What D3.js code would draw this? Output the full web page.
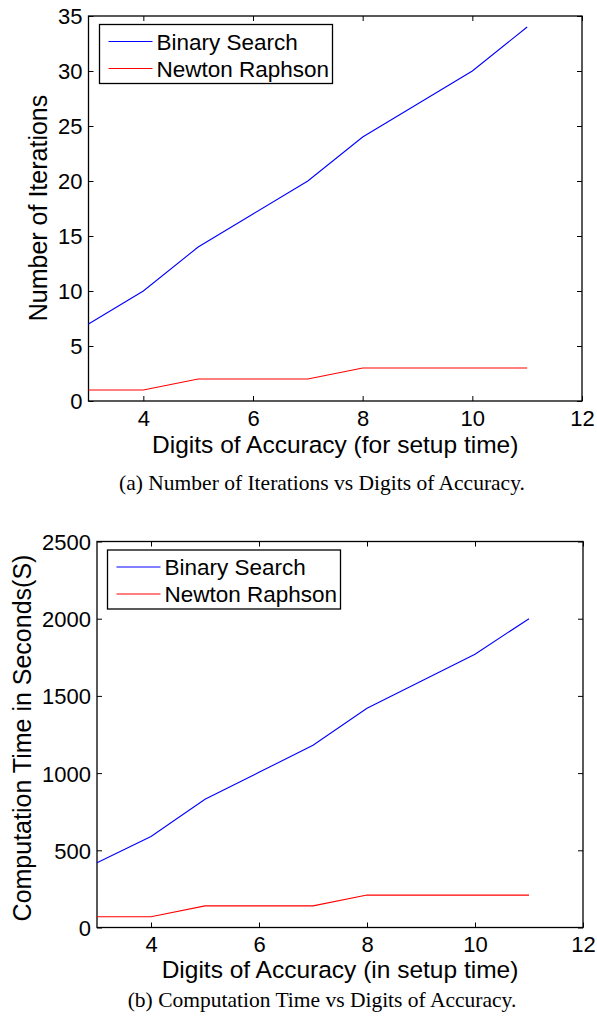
<!DOCTYPE html>
<html><head><meta charset="utf-8">
<script src="https://cdn.jsdelivr.net/npm/d3@7"></script>
<style>body{margin:0;background:#fff}svg{display:block}</style>
</head><body>
<script>
const digits = [3,4,5,6,7,8,9,10,11];
const iterBinary = [7,10,14,17,20,24,27,30,34];
const iterNewton = [1,1,2,2,2,3,3,3,3];
const timeBinary = [420,590,830,1005,1180,1420,1595,1770,2000];
const timeNewton = [70,70,140,140,140,210,210,210,210];
const xTicks = [4,6,8,10,12];
const yTicksA = [0,5,10,15,20,25,30,35];
const yTicksB = [0,500,1000,1500,2000,2500];
const seriesNames = ["Binary Search","Newton Raphson"];
const seriesColors = ["#0000ff","#ff0000"];

const svg = d3.select("body").append("svg").attr("width",597).attr("height",1022);
const FONT = "Liberation Sans, Arial, sans-serif";

function panel(o){
  const g = svg.append("g");
  const x = d3.scaleLinear().domain([3,12]).range([o.left,o.right]);
  const y = d3.scaleLinear().domain([0,o.ymax]).range([o.bottom,o.top]);
  const tl = 5;
  g.append("rect").attr("x",o.left).attr("y",o.top).attr("width",o.right-o.left).attr("height",o.bottom-o.top)
    .attr("fill","none").attr("stroke","#000").attr("stroke-width",1.3);
  const ax = g.append("g").attr("transform",`translate(0,${o.bottom})`)
    .call(d3.axisBottom(x).tickValues(xTicks).tickSizeInner(-tl).tickSizeOuter(0).tickPadding(9).tickFormat(d3.format("d")));
  const axT = g.append("g").attr("transform",`translate(0,${o.top})`)
    .call(d3.axisTop(x).tickValues(xTicks).tickSizeInner(-tl).tickSizeOuter(0).tickFormat(""));
  const ay = g.append("g").attr("transform",`translate(${o.left},0)`)
    .call(d3.axisLeft(y).tickValues(o.yticks).tickSizeInner(-tl).tickSizeOuter(0).tickPadding(6).tickFormat(d3.format("d")));
  const ayR = g.append("g").attr("transform",`translate(${o.right},0)`)
    .call(d3.axisRight(y).tickValues(o.yticks).tickSizeInner(-tl).tickSizeOuter(0).tickFormat(""));
  [ax,axT,ay,ayR].forEach(a=>{
    a.select(".domain").remove();
    a.selectAll("line").attr("stroke","#000");
    a.selectAll("text").attr("font-family",FONT).attr("font-size",22).attr("fill","#000");
  });
  ax.selectAll("text").attr("dy","0.71em");
  ay.selectAll("text").attr("dy","0.36em");
  const line = (vals)=>d3.line().x((d,i)=>x(digits[i])).y(d=>y(d))(vals);
  o.series.forEach((vals,i)=>{
    g.append("path").attr("d",line(vals)).attr("fill","none").attr("stroke",seriesColors[i]).attr("stroke-width",1.1);
  });
  g.append("text").attr("x",(o.left+o.right)/2).attr("y",o.xlabelY).attr("text-anchor","middle")
    .attr("font-family",FONT).attr("font-size",24.5).text(o.xlabel);
  g.append("text").attr("transform",`translate(${o.ylabelX},${o.ylabelCY}) rotate(-90)`).attr("text-anchor","middle")
    .attr("font-family",FONT).attr("font-size",25).text(o.ylabel);
  const L = o.legend;
  g.append("rect").attr("x",L.x).attr("y",L.y).attr("width",L.w).attr("height",L.h)
    .attr("fill","#fff").attr("stroke","#000").attr("stroke-width",1.3);
  seriesNames.forEach((n,i)=>{
    const cy = L.y + 17 + i*27;
    g.append("line").attr("x1",L.x+9).attr("x2",L.x+53).attr("y1",cy).attr("y2",cy)
      .attr("stroke",seriesColors[i]).attr("stroke-width",1.1);
    g.append("text").attr("x",L.x+57).attr("y",cy).attr("dy","0.36em")
      .attr("font-family",FONT).attr("font-size",22.5).text(n);
  });
  svg.append("text").attr("x",o.capX).attr("y",o.capY).attr("text-anchor","middle")
    .attr("font-family","Liberation Serif, Times New Roman, serif").attr("font-size",21.5).text(o.caption);
}

panel({left:88.5,right:582,top:16,bottom:401,ymax:35,yticks:yTicksA,
  series:[iterBinary,iterNewton],
  xlabel:"Digits of Accuracy (for setup time)", xlabelY:453,
  ylabel:"Number of Iterations", ylabelX:47, ylabelCY:208,
  legend:{x:99.5,y:24.5,w:233,h:59},
  caption:"(a) Number of Iterations vs Digits of Accuracy.", capX:322, capY:490});

panel({left:97,right:583,top:541.5,bottom:927.5,ymax:2500,yticks:yTicksB,
  series:[timeBinary,timeNewton],
  xlabel:"Digits of Accuracy (in setup time)", xlabelY:978,
  ylabel:"Computation Time in Seconds(S)", ylabelX:31, ylabelCY:738,
  legend:{x:107.5,y:550,w:233,h:59},
  caption:"(b) Computation Time vs Digits of Accuracy.", capX:322, capY:1007});
</script>
</body></html>
